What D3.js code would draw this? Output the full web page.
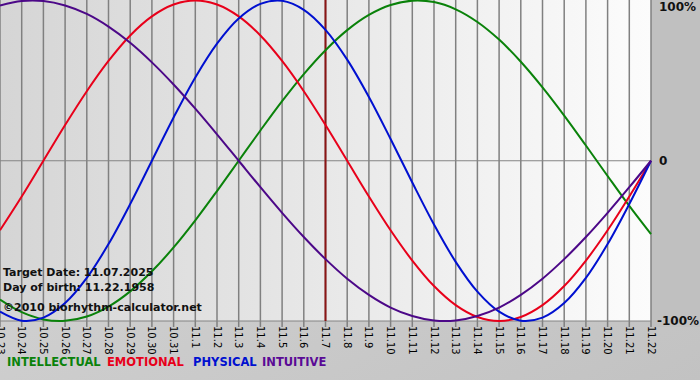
<!DOCTYPE html>
<html><head><meta charset="utf-8">
<script src="https://cdn.jsdelivr.net/npm/d3@7"></script>
<style>
html,body{margin:0;padding:0;background:#c6c6c6;}
svg{display:block;}
text{font-family:"DejaVu Sans",Verdana,sans-serif;}
</style></head>
<body>
<svg id="chart" width="700" height="380"></svg>
<script>
const dates = ["10.23","10.24","10.25","10.26","10.27","10.28","10.29","10.30","10.31","11.1","11.2","11.3","11.4","11.5","11.6","11.7","11.8","11.9","11.10","11.11","11.12","11.13","11.14","11.15","11.16","11.17","11.18","11.19","11.20","11.21","11.22"];
const physical = [-0.942,-0.998,-0.979,-0.888,-0.731,-0.520,-0.270,0,0.270,0.520,0.731,0.888,0.979,0.998,0.942,0.817,0.631,0.398,0.136,-0.136,-0.398,-0.631,-0.817,-0.942,-0.998,-0.979,-0.888,-0.731,-0.520,-0.270,0];
const emotional = [-0.434,-0.223,0,0.223,0.434,0.623,0.782,0.901,0.975,1,0.975,0.901,0.782,0.623,0.434,0.223,0,-0.223,-0.434,-0.623,-0.782,-0.901,-0.975,-1,-0.975,-0.901,-0.782,-0.623,-0.434,-0.223,0];
const intellectual = [-0.866,-0.945,-0.990,-0.999,-0.972,-0.910,-0.815,-0.690,-0.541,-0.372,-0.189,0,0.189,0.372,0.541,0.690,0.815,0.910,0.972,0.999,0.990,0.945,0.866,0.756,0.618,0.458,0.282,0.095,-0.095,-0.282,-0.458];
const intuitive = [0.969,0.997,0.997,0.969,0.916,0.837,0.736,0.614,0.476,0.325,0.165,0,-0.165,-0.325,-0.476,-0.614,-0.736,-0.837,-0.916,-0.969,-0.997,-0.997,-0.969,-0.916,-0.837,-0.736,-0.614,-0.476,-0.325,-0.165,0];
const yTicks = [1, 0, -1];
const yTickLabels = ["100%", "0", "-100%"];
const targetDate = "11.7";
const infoLines = ["Target Date: 11.07.2025", "Day of birth: 11.22.1958", "\u00a92010 biorhythm-calculator.net"];
const legend = [
  {name:"INTELLECTUAL", color:"#0a820a"},
  {name:"EMOTIONAL", color:"#e8001a"},
  {name:"PHYSICAL", color:"#0010d0"},
  {name:"INTUITIVE", color:"#5a0a96"}
];
const series = [
  {values:intellectual, color:"#0a820a"},
  {values:emotional, color:"#e8001a"},
  {values:physical, color:"#0010d0"},
  {values:intuitive, color:"#4c0888"}
];

const svg = d3.select("#chart");
const W = 651, H = 321;
const x = d3.scalePoint().domain(dates).range([0, W]);
const y = d3.scaleLinear().domain([-1, 1]).range([H, 0.5]);

const defs = svg.append("defs");
const g1 = defs.append("linearGradient").attr("id","plotbg").attr("x1","0").attr("x2","1").attr("y1","0").attr("y2","0");
g1.append("stop").attr("offset","0").attr("stop-color","#d5d5d5");
g1.append("stop").attr("offset","0.5").attr("stop-color","#e8e8e8");
g1.append("stop").attr("offset","1").attr("stop-color","#fcfcfc");
const g2 = defs.append("linearGradient").attr("id","outbg").attr("x1","0").attr("x2","1").attr("y1","0").attr("y2","1");
g2.append("stop").attr("offset","0").attr("stop-color","#d8d8d8");
g2.append("stop").attr("offset","1").attr("stop-color","#c2c2c2");

svg.append("rect").attr("width",700).attr("height",380).attr("fill","url(#outbg)");
svg.append("rect").attr("x",W).attr("y",0).attr("width",700-W).attr("height",H+6).attr("fill","#c0c0c0");
svg.append("rect").attr("x",0).attr("y",0).attr("width",W).attr("height",H).attr("fill","url(#plotbg)");

// vertical grid
svg.append("g").selectAll("line").data(dates).join("line")
  .attr("x1",d=>x(d)).attr("x2",d=>x(d)).attr("y1",0).attr("y2",H+6)
  .attr("stroke","#808080").attr("stroke-width",1.5);
// horizontal zero line and bottom
svg.append("line").attr("x1",0).attr("x2",W).attr("y1",y(0)).attr("y2",y(0)).attr("stroke","#848484").attr("stroke-width",1.2);
svg.append("line").attr("x1",0).attr("x2",W).attr("y1",H).attr("y2",H).attr("stroke","#848484").attr("stroke-width",1.2);

// target line
svg.append("line").attr("x1",x(targetDate)).attr("x2",x(targetDate)).attr("y1",0).attr("y2",H)
  .attr("stroke","#8a1414").attr("stroke-width",2);

// curves
const line = d3.line().x((d,i)=>x(dates[i])).y(d=>y(d)).curve(d3.curveCatmullRom.alpha(0.5));
svg.append("g").selectAll("path").data(series).join("path")
  .attr("d",d=>line(d.values)).attr("fill","none").attr("stroke",d=>d.color).attr("stroke-width",2);

// x tick labels
svg.append("g").selectAll("text").data(dates).join("text")
  .attr("transform",d=>`translate(${x(d)},${H+5}) rotate(90)`)
  .attr("dy","0.35em").attr("font-size",10).attr("fill","#000").text(d=>d);

// y labels on right
svg.append("g").selectAll("text").data(yTicks).join("text")
  .attr("x",(d,i)=> i===2 ? 657 : 659).attr("y",d=>Math.max(7, Math.min(y(d), 322)))
  .attr("dy","0.35em").attr("font-size",12).attr("font-weight","bold").attr("fill","#111")
  .text((d,i)=>yTickLabels[i]);

// info text
svg.append("g").selectAll("text").data(infoLines).join("text")
  .attr("x",3).attr("y",(d,i)=>[276,291,311][i])
  .attr("font-size",11).attr("font-weight","bold").attr("fill","#111").text(d=>d);

// legend
const legX = [7, 107, 193, 262];
svg.append("g").selectAll("text").data(legend).join("text")
  .attr("x",(d,i)=>legX[i]).attr("y",366).attr("font-size",11.5).attr("font-weight","bold")
  .attr("fill",d=>d.color).text(d=>d.name);
</script>
</body></html>
